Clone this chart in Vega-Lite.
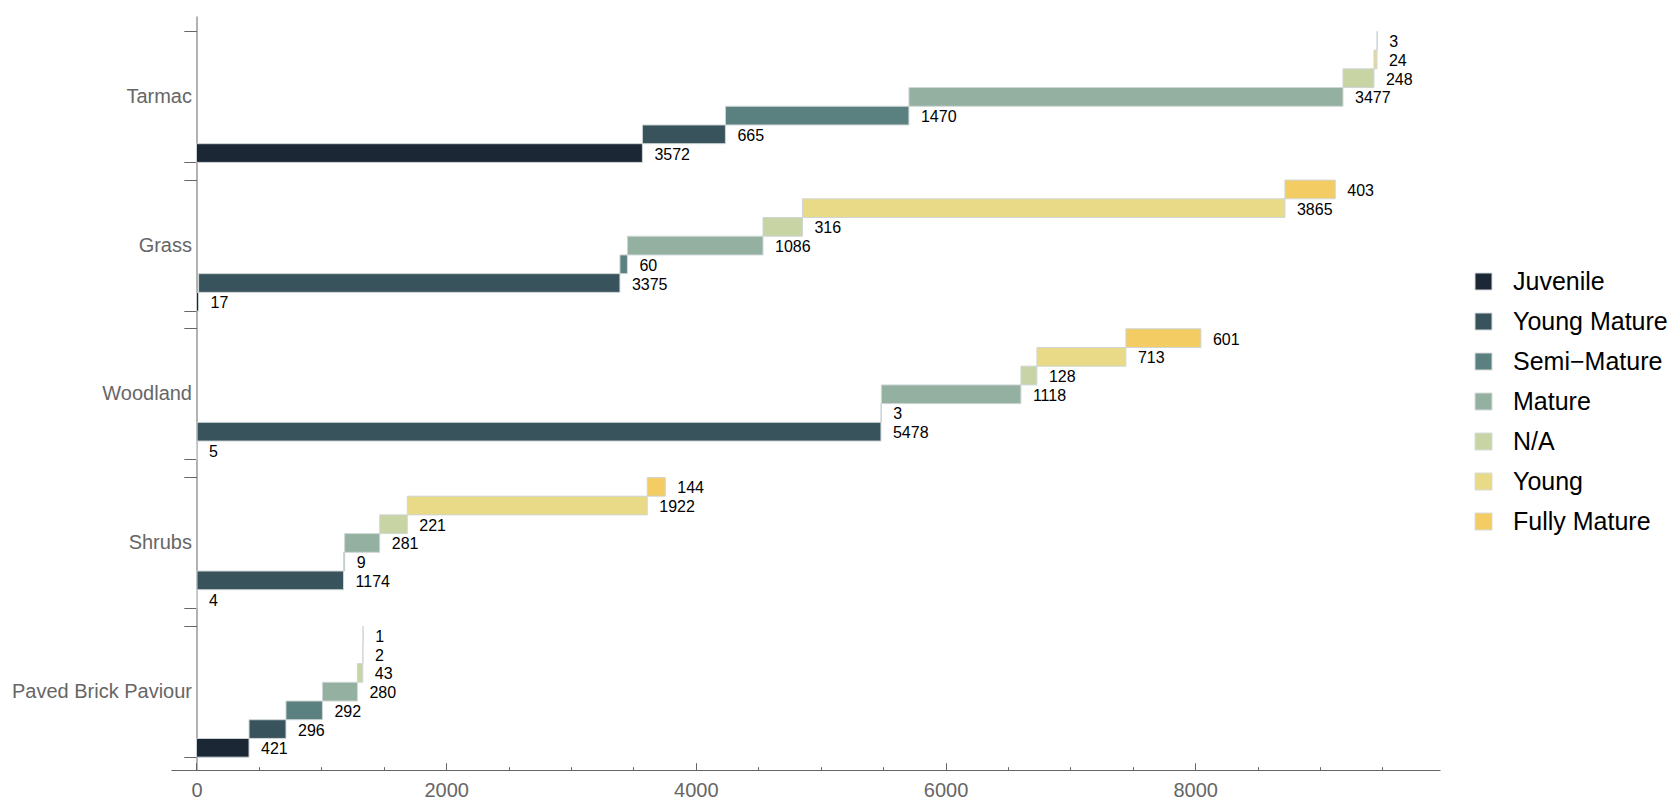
{
  "$schema": "https://vega.github.io/schema/vega-lite/v6.json",
  "width": 1269,
  "height": 754,
  "autosize": {"type": "none"},
  "padding": {"left": 171, "top": 16, "right": 238, "bottom": 42},
  "background": "white",
  "config": {"view": {"stroke": null}, "font": "Liberation Sans"},
  "data": {"values": [
    {"land": "Tarmac", "stage": "Juvenile", "k": 1, "n": 3572},
    {"land": "Tarmac", "stage": "Young Mature", "k": 2, "n": 665},
    {"land": "Tarmac", "stage": "Semi−Mature", "k": 3, "n": 1470},
    {"land": "Tarmac", "stage": "Mature", "k": 4, "n": 3477},
    {"land": "Tarmac", "stage": "N/A", "k": 5, "n": 248},
    {"land": "Tarmac", "stage": "Young", "k": 6, "n": 24},
    {"land": "Tarmac", "stage": "Fully Mature", "k": 7, "n": 3},
    {"land": "Grass", "stage": "Juvenile", "k": 1, "n": 17},
    {"land": "Grass", "stage": "Young Mature", "k": 2, "n": 3375},
    {"land": "Grass", "stage": "Semi−Mature", "k": 3, "n": 60},
    {"land": "Grass", "stage": "Mature", "k": 4, "n": 1086},
    {"land": "Grass", "stage": "N/A", "k": 5, "n": 316},
    {"land": "Grass", "stage": "Young", "k": 6, "n": 3865},
    {"land": "Grass", "stage": "Fully Mature", "k": 7, "n": 403},
    {"land": "Woodland", "stage": "Juvenile", "k": 1, "n": 5},
    {"land": "Woodland", "stage": "Young Mature", "k": 2, "n": 5478},
    {"land": "Woodland", "stage": "Semi−Mature", "k": 3, "n": 3},
    {"land": "Woodland", "stage": "Mature", "k": 4, "n": 1118},
    {"land": "Woodland", "stage": "N/A", "k": 5, "n": 128},
    {"land": "Woodland", "stage": "Young", "k": 6, "n": 713},
    {"land": "Woodland", "stage": "Fully Mature", "k": 7, "n": 601},
    {"land": "Shrubs", "stage": "Juvenile", "k": 1, "n": 4},
    {"land": "Shrubs", "stage": "Young Mature", "k": 2, "n": 1174},
    {"land": "Shrubs", "stage": "Semi−Mature", "k": 3, "n": 9},
    {"land": "Shrubs", "stage": "Mature", "k": 4, "n": 281},
    {"land": "Shrubs", "stage": "N/A", "k": 5, "n": 221},
    {"land": "Shrubs", "stage": "Young", "k": 6, "n": 1922},
    {"land": "Shrubs", "stage": "Fully Mature", "k": 7, "n": 144},
    {"land": "Paved Brick Paviour", "stage": "Juvenile", "k": 1, "n": 421},
    {"land": "Paved Brick Paviour", "stage": "Young Mature", "k": 2, "n": 296},
    {"land": "Paved Brick Paviour", "stage": "Semi−Mature", "k": 3, "n": 292},
    {"land": "Paved Brick Paviour", "stage": "Mature", "k": 4, "n": 280},
    {"land": "Paved Brick Paviour", "stage": "N/A", "k": 5, "n": 43},
    {"land": "Paved Brick Paviour", "stage": "Young", "k": 6, "n": 2},
    {"land": "Paved Brick Paviour", "stage": "Fully Mature", "k": 7, "n": 1}
  ]},
  "transform": [
    {"stack": "n", "groupby": ["land"], "sort": [{"field": "k", "order": "ascending"}], "as": ["x0", "x1"]}
  ],
  "layer": [
    {
      "mark": {"type": "bar", "stroke": "#cfd6d6", "strokeWidth": 1},
      "encoding": {
        "x": {"field": "x0", "type": "quantitative",
          "scale": {"domain": [-204, 9961], "nice": false, "zero": false},
          "axis": {"orient": "bottom", "title": null, "grid": false, "values": [0, 2000, 4000, 6000, 8000], "format": "d",
            "tickSize": -7.3, "labelPadding": 17.5, "labelFontSize": 20, "labelColor": "#666666", "tickColor": "#666666",
            "domainColor": "#666666", "labelFlush": false}},
        "x2": {"field": "x1"},
        "y": {"field": "land", "type": "nominal",
          "sort": ["Tarmac", "Grass", "Woodland", "Shrubs", "Paved Brick Paviour"],
          "scale": {"paddingInner": 0.119, "paddingOuter": 0.095, "align": 0.545},
          "axis": {"orient": "left", "title": null, "offset": -25.5, "bandPosition": 0, "tickSize": 12.7,
            "tickColor": "#666666", "domainColor": "#666666", "labelFontSize": 20, "labelColor": "#666666",
            "labelPadding": -7.7, "labelOffset": 0, "labelLimit": 400, "labelAlign": "right", "labelBaseline": "middle"}},
        "yOffset": {"field": "stage", "type": "nominal",
          "sort": ["Fully Mature", "Young", "N/A", "Mature", "Semi−Mature", "Young Mature", "Juvenile"],
          "scale": {"paddingInner": 0, "paddingOuter": 0}},
        "color": {"field": "stage", "type": "nominal",
          "scale": {"domain": ["Juvenile", "Young Mature", "Semi−Mature", "Mature", "N/A", "Young", "Fully Mature"],
            "range": ["#1b2735", "#38535c", "#5b8080", "#93b0a0", "#c8d4a4", "#e9da88", "#f3cc63"]},
          "legend": {"title": null, "orient": "none", "legendX": 1300, "legendY": 253, "padding": 0,
            "symbolType": "square", "symbolSize": 289, "labelFontSize": 25, "labelColor": "black",
            "rowPadding": 14, "labelOffset": 17, "labelLimit": 400, "symbolStrokeColor": "#d8dcdc", "symbolStrokeWidth": 1, "symbolOpacity": 1}}
      }
    },
    {
      "mark": {"type": "text", "align": "left", "baseline": "middle", "dx": 12, "dy": 1.5, "fontSize": 16, "color": "black"},
      "encoding": {
        "x": {"field": "x1", "type": "quantitative",
          "axis": {"orient": "bottom", "title": null, "grid": false, "labels": false, "domain": false,
            "values": [500, 1000, 1500, 2500, 3000, 3500, 4500, 5000, 5500, 6500, 7000, 7500, 8500, 9000, 9500],
            "tickSize": -3.3, "tickColor": "#666666"}},
        "y": {"field": "land", "type": "nominal",
          "sort": ["Tarmac", "Grass", "Woodland", "Shrubs", "Paved Brick Paviour"],
          "axis": {"orient": "left", "title": null, "offset": -25.5, "bandPosition": 1, "tickSize": 12.7,
            "tickColor": "#666666", "labels": false, "domain": false}},
        "yOffset": {"field": "stage", "type": "nominal",
          "sort": ["Fully Mature", "Young", "N/A", "Mature", "Semi−Mature", "Young Mature", "Juvenile"]},
        "text": {"field": "n", "type": "quantitative", "format": "d"}
      }
    }
  ],
  "resolve": {"axis": {"x": "independent", "y": "independent"}}
}
